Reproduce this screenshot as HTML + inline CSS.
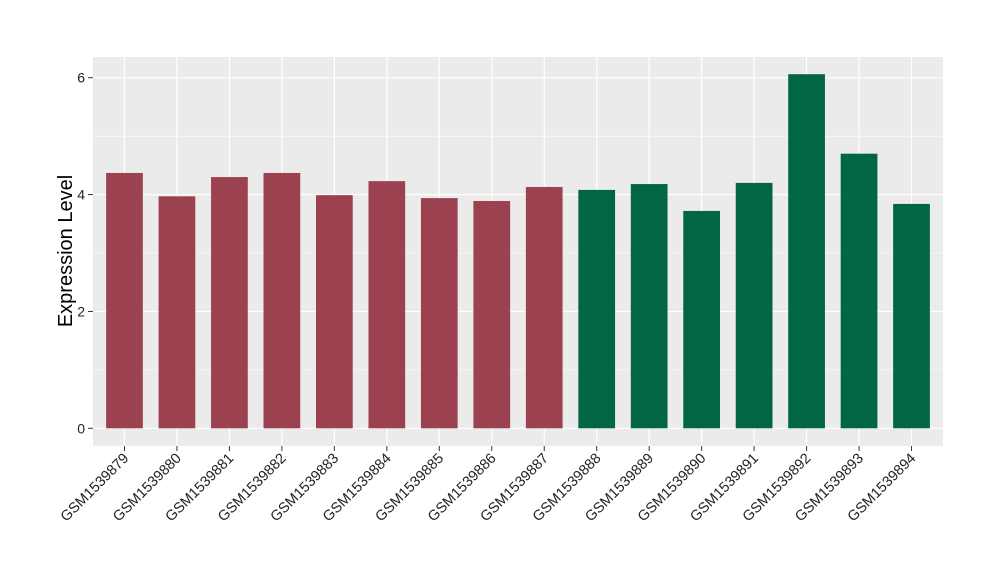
<!DOCTYPE html>
<html><head><meta charset="utf-8"><style>
body{margin:0;background:#fff}
svg{display:block;font-family:"Liberation Sans",Arial,sans-serif}
</style></head><body>
<svg id="chart" width="1000" height="580">
<rect x="93" y="57" width="850" height="389" fill="#ebebeb"/>
<g id="grid"></g><g id="bars"></g><g id="axes"></g>
<text transform="translate(72,251) rotate(-90)" text-anchor="middle" font-size="20" fill="#000">Expression Level</text>
</svg>
<script>
const categories=["GSM1539879","GSM1539880","GSM1539881","GSM1539882","GSM1539883","GSM1539884","GSM1539885","GSM1539886","GSM1539887","GSM1539888","GSM1539889","GSM1539890","GSM1539891","GSM1539892","GSM1539893","GSM1539894"];
const values=[4.37,3.97,4.30,4.37,3.99,4.23,3.94,3.89,4.13,4.08,4.18,3.72,4.20,6.06,4.70,3.84];
const groups=[0,0,0,0,0,0,0,0,0,1,1,1,1,1,1,1];
const yTicks=[0,2,4,6];
const colors=["#9b4150","#006644"];
const NS="http://www.w3.org/2000/svg";
const px0=93,pw=850,y0=428.3,unit=58.43;
const band=pw/(categories.length+0.2);
const xs=i=>px0+(i+0.6)*band;
const ys=v=>y0-v*unit;
function mk(t,a,p){const e=document.createElementNS(NS,t);for(const k in a)e.setAttribute(k,a[k]);p.appendChild(e);return e;}
const grid=document.getElementById('grid'),bars=document.getElementById('bars'),axes=document.getElementById('axes');
for(let v=1;v<=7;v+=2){const y=ys(v);if(y<57||y>446)continue;
const l=mk('line',{x1:93,x2:943,y1:y,y2:y,stroke:'#fff','stroke-width':0.6},grid);

}
yTicks.forEach(v=>{const y=ys(v);
const l=mk('line',{x1:93,x2:943,y1:y,y2:y,stroke:'#fff','stroke-width':1.2},grid);


const t=mk('line',{x1:88,x2:93,y1:y,y2:y,stroke:'#333','stroke-width':1},axes);


const tx=mk('text',{x:85,y:y+5,'text-anchor':'end','font-size':14,fill:'#222'},axes);
tx.textContent=v;

});
categories.forEach((c,i)=>{const x=xs(i);
const g=mk('line',{x1:x,x2:x,y1:57,y2:446,stroke:'#fff','stroke-width':1.2},grid);


const w=band*0.7;
const b=mk('rect',{x:x-w/2,y:ys(values[i]),width:w,height:ys(0)-ys(values[i]),fill:colors[groups[i]]},bars);


const t=mk('line',{x1:x,x2:x,y1:446,y2:451,stroke:'#333','stroke-width':1},axes);


const tx=mk('text',{transform:`translate(${x+5},${459}) rotate(-45)`,'text-anchor':'end','font-size':14.5,fill:'#222'},axes);
tx.textContent=c;

});
</script>
</body></html>
